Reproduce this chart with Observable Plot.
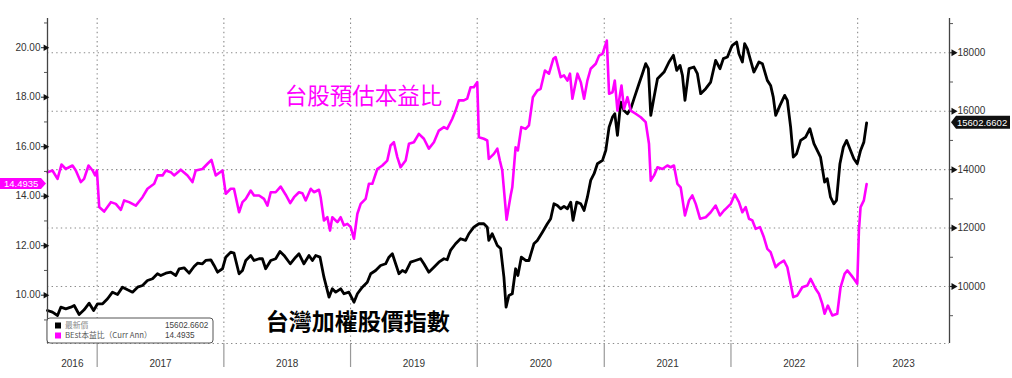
<!DOCTYPE html>
<html><head><meta charset="utf-8">
<script src="https://cdn.jsdelivr.net/npm/d3@7"></script>
<script src="https://cdn.jsdelivr.net/npm/@observablehq/plot@0.6"></script>
<style>html,body{margin:0;padding:0;background:#fff;} svg{display:block}</style>
</head><body><div id="chart"></div>
<script>
// ---- data (time as decimal year) ----
const taiex = [[2016.609,9178],[2016.648,9120],[2016.688,9007],[2016.714,9291],[2016.753,9236],[2016.793,9291],[2016.819,9349],[2016.858,9041],[2016.897,9202],[2016.937,9428],[2016.972,9178],[2017.003,9407],[2017.043,9407],[2017.082,9579],[2017.121,9805],[2017.161,9726],[2017.200,9977],[2017.240,9886],[2017.279,9805],[2017.319,9977],[2017.358,10034],[2017.397,10205],[2017.437,10264],[2017.476,10435],[2017.502,10377],[2017.542,10456],[2017.581,10490],[2017.621,10377],[2017.647,10606],[2017.686,10640],[2017.726,10456],[2017.765,10685],[2017.792,10798],[2017.831,10777],[2017.857,10890],[2017.897,10914],[2017.923,10719],[2017.950,10490],[2017.989,10606],[2018.015,11004],[2018.054,11175],[2018.080,11140],[2018.120,10435],[2018.147,10548],[2018.173,10890],[2018.212,11062],[2018.238,10890],[2018.278,10949],[2018.304,10949],[2018.330,10606],[2018.370,10890],[2018.409,10949],[2018.443,11199],[2018.475,11062],[2018.524,10777],[2018.567,11004],[2018.593,11120],[2018.632,10777],[2018.672,11062],[2018.699,10890],[2018.725,11062],[2018.759,11004],[2018.790,10319],[2018.830,9634],[2018.856,9921],[2018.883,9805],[2018.922,9921],[2018.948,9750],[2018.987,9805],[2019.027,9462],[2019.054,9750],[2019.093,9977],[2019.132,10147],[2019.159,10435],[2019.198,10548],[2019.237,10719],[2019.277,10777],[2019.303,11004],[2019.330,11120],[2019.356,10777],[2019.382,10435],[2019.409,10548],[2019.435,10490],[2019.474,10832],[2019.513,10890],[2019.553,10949],[2019.579,10777],[2019.618,10490],[2019.658,10661],[2019.697,10832],[2019.737,10949],[2019.763,10914],[2019.789,11233],[2019.829,11462],[2019.868,11634],[2019.908,11576],[2019.934,11805],[2019.973,12031],[2020.013,12147],[2020.052,12147],[2020.079,12031],[2020.091,11576],[2020.118,11805],[2020.158,11404],[2020.184,11300],[2020.210,10319],[2020.227,9291],[2020.249,9692],[2020.276,9750],[2020.302,10606],[2020.320,10377],[2020.347,11004],[2020.381,10890],[2020.407,10890],[2020.446,11462],[2020.473,11576],[2020.513,11860],[2020.552,12147],[2020.578,12319],[2020.604,12832],[2020.631,12774],[2020.657,12661],[2020.683,12740],[2020.710,12661],[2020.736,12887],[2020.754,12261],[2020.783,12887],[2020.815,12832],[2020.841,12603],[2020.867,13058],[2020.893,13630],[2020.920,13860],[2020.946,14202],[2020.986,14316],[2021.012,14658],[2021.038,15456],[2021.065,15799],[2021.083,15915],[2021.104,15172],[2021.130,16313],[2021.156,16028],[2021.183,15915],[2021.209,16086],[2021.235,16429],[2021.274,16942],[2021.301,17285],[2021.327,17628],[2021.348,17456],[2021.367,15857],[2021.393,16484],[2021.420,17114],[2021.472,17342],[2021.511,17685],[2021.546,17914],[2021.572,17398],[2021.598,17570],[2021.617,17227],[2021.637,16370],[2021.669,17456],[2021.708,17513],[2021.735,17285],[2021.761,16600],[2021.801,16771],[2021.840,16998],[2021.879,17741],[2021.913,17456],[2021.940,17799],[2021.972,17856],[2021.998,18142],[2022.011,18254],[2022.045,18367],[2022.063,17970],[2022.090,17685],[2022.108,18311],[2022.129,18142],[2022.155,17741],[2022.181,17342],[2022.221,17685],[2022.248,17628],[2022.287,17056],[2022.313,16884],[2022.334,16484],[2022.353,15857],[2022.387,16199],[2022.424,16542],[2022.445,16370],[2022.471,15456],[2022.492,14429],[2022.518,14545],[2022.550,15001],[2022.589,15114],[2022.623,15401],[2022.655,14888],[2022.681,14658],[2022.707,14429],[2022.739,13572],[2022.760,13689],[2022.786,13058],[2022.812,12832],[2022.833,12946],[2022.860,14202],[2022.887,14771],[2022.913,15001],[2022.944,14658],[2022.970,14374],[2022.997,14202],[2023.023,14658],[2023.049,14942],[2023.071,15602.6602]];

const pe = [[2016.609,14.97],[2016.648,15.04],[2016.688,14.70],[2016.719,15.28],[2016.753,15.10],[2016.779,15.17],[2016.806,15.24],[2016.832,15.04],[2016.871,14.57],[2016.897,14.70],[2016.932,15.24],[2016.964,15.04],[2016.984,14.84],[2016.998,15.04],[2017.016,13.56],[2017.055,13.38],[2017.108,13.76],[2017.147,13.69],[2017.187,13.45],[2017.213,13.83],[2017.252,13.76],[2017.305,13.62],[2017.358,13.96],[2017.397,14.30],[2017.450,14.50],[2017.476,14.84],[2017.516,14.84],[2017.542,15.04],[2017.581,14.97],[2017.607,14.84],[2017.660,15.07],[2017.713,14.84],[2017.752,14.57],[2017.778,15.04],[2017.831,15.10],[2017.871,15.31],[2017.902,15.47],[2017.936,14.84],[2017.989,15.04],[2018.015,14.10],[2018.054,14.30],[2018.080,14.30],[2018.120,13.35],[2018.147,13.76],[2018.173,13.89],[2018.212,14.23],[2018.238,14.03],[2018.278,14.03],[2018.317,13.89],[2018.344,13.62],[2018.370,14.16],[2018.409,14.16],[2018.448,14.39],[2018.488,14.06],[2018.524,13.72],[2018.554,13.96],[2018.593,14.16],[2018.620,14.12],[2018.646,13.83],[2018.686,14.30],[2018.711,14.16],[2018.751,14.26],[2018.764,13.96],[2018.790,13.02],[2018.817,13.15],[2018.838,12.61],[2018.856,13.15],[2018.896,12.95],[2018.922,13.15],[2018.948,12.82],[2018.975,12.88],[2019.001,12.75],[2019.027,12.28],[2019.054,13.29],[2019.080,13.69],[2019.119,13.89],[2019.145,14.50],[2019.172,14.50],[2019.211,15.10],[2019.251,15.24],[2019.290,15.44],[2019.316,16.05],[2019.342,16.18],[2019.369,15.58],[2019.395,15.17],[2019.435,15.44],[2019.461,16.12],[2019.500,16.18],[2019.539,16.52],[2019.579,16.32],[2019.618,15.92],[2019.658,16.18],[2019.697,16.65],[2019.737,16.79],[2019.763,16.72],[2019.803,17.13],[2019.829,17.46],[2019.855,17.87],[2019.894,17.87],[2019.921,17.94],[2019.947,18.40],[2019.973,18.40],[2020.000,18.61],[2020.013,16.38],[2020.052,16.32],[2020.079,16.25],[2020.091,15.51],[2020.131,15.71],[2020.158,15.92],[2020.178,15.44],[2020.197,15.04],[2020.231,13.05],[2020.263,14.03],[2020.276,14.36],[2020.302,15.98],[2020.320,15.85],[2020.347,16.79],[2020.381,16.72],[2020.407,16.86],[2020.438,18.00],[2020.473,18.27],[2020.499,18.34],[2020.533,19.08],[2020.565,18.95],[2020.599,19.55],[2020.617,19.62],[2020.657,18.81],[2020.683,18.88],[2020.710,18.67],[2020.730,18.95],[2020.749,17.94],[2020.789,18.95],[2020.815,18.61],[2020.841,17.94],[2020.867,18.67],[2020.893,19.15],[2020.933,19.35],[2020.959,19.68],[2020.986,19.75],[2021.020,20.29],[2021.038,18.14],[2021.065,18.20],[2021.083,18.67],[2021.104,17.46],[2021.136,18.47],[2021.156,17.53],[2021.183,18.00],[2021.209,17.46],[2021.248,17.33],[2021.288,17.19],[2021.327,16.99],[2021.353,16.12],[2021.367,14.63],[2021.393,14.84],[2021.420,15.17],[2021.459,15.10],[2021.498,15.24],[2021.524,15.17],[2021.550,15.24],[2021.577,14.50],[2021.603,14.36],[2021.637,13.22],[2021.669,13.83],[2021.695,14.03],[2021.722,13.69],[2021.756,13.09],[2021.801,13.15],[2021.840,13.35],[2021.879,13.62],[2021.913,13.22],[2021.945,13.42],[2021.959,13.49],[2021.998,13.69],[2022.030,14.07],[2022.063,13.76],[2022.090,13.35],[2022.116,13.56],[2022.142,13.09],[2022.169,13.02],[2022.195,12.68],[2022.229,12.75],[2022.260,12.34],[2022.287,11.87],[2022.313,11.74],[2022.353,11.13],[2022.379,11.27],[2022.418,11.40],[2022.445,11.13],[2022.471,10.46],[2022.492,9.92],[2022.524,9.99],[2022.563,10.32],[2022.603,10.39],[2022.629,10.66],[2022.668,10.26],[2022.694,10.06],[2022.721,9.65],[2022.739,9.25],[2022.765,9.58],[2022.800,9.18],[2022.839,9.25],[2022.865,10.32],[2022.897,10.86],[2022.918,11.00],[2022.950,10.80],[2022.970,10.66],[2022.997,10.46],[2023.010,12.61],[2023.023,13.56],[2023.049,13.83],[2023.071,14.4935]];

const yearLabels = [2016, 2017, 2018, 2019, 2020, 2021, 2022, 2023];
const taiexTicks = [10000, 12000, 14000, 16000, 18000];
const taiexMinor = [9000, 11000, 13000, 15000, 17000, 19000];
const peTicks = [10, 12, 14, 16, 18, 20];
const peMinor = [9, 11, 13, 15, 17, 19, 21];
const seriesNames = ["最新價", "BEst本益比（Curr Ann）"];
const lastValues = ["15602.6602", "14.4935"];
const annotationPE = "台股預估本益比";
const annotationTAIEX = "台灣加權股價指數";

// ---- helpers ----
const toDate = t => { const y = Math.floor(t); const a = Date.UTC(y,0,1), b = Date.UTC(y+1,0,1); return new Date(a + (t - y) * (b - a)); };
const xDomain = [2016.609, 2023.725];
const yDomain = [8048, 19174];
const peDomain = [8.048, 21.18];
const peToY = d3.scaleLinear().domain(peDomain).range(yDomain);
const MAG = "#ff00ff";

const x0 = toDate(xDomain[0]), x1 = toDate(xDomain[1]);
const yearStarts = d3.range(2017, 2024).map(y => new Date(Date.UTC(y,0,1)));
const quarterTicks = d3.utcMonths(x0, x1, 3).filter(d => d.getUTCMonth() % 3 === 0 && d.getUTCMonth() !== 0);
const labelPos = yearLabels.map(y => {
  const a = Math.max(+x0, Date.UTC(y,0,1)), b = Math.min(+x1, Date.UTC(y+1,0,1));
  return new Date((a + b) / 2);
});

const dotted = {stroke: "#8a8a8a", strokeOpacity: 1, strokeDasharray: "1.4,3.2", strokeWidth: 1.1};

function tags(index, scales, values, dim) {
  const g = d3.create("svg:g").attr("font-family", "Liberation Sans, Arial, sans-serif").attr("text-anchor", "start");
  // right tag (TAIEX)
  const xr = dim.width - dim.marginRight + 2;
  const yr = scales.y(taiex[taiex.length - 1][1]);
  g.append("path").attr("fill", "#111")
    .attr("d", `M${xr},${yr} L${xr+5},${yr-6.5} L${xr+59},${yr-6.5} L${xr+59},${yr+6.5} L${xr+5},${yr+6.5} Z`);
  g.append("text").attr("x", xr + 6).attr("y", yr).attr("dy", "0.35em")
    .attr("fill", "#fff").attr("font-size", 9.5).text(lastValues[0]);
  // left tag (PE)
  const xl = dim.marginLeft - 1;
  const yl = scales.y(peToY(pe[pe.length - 1][1]));
  g.append("path").attr("fill", MAG)
    .attr("d", `M0,${yl-5.5} L${xl-5},${yl-5.5} L${xl},${yl} L${xl-5},${yl+5.5} L0,${yl+5.5} Z`);
  g.append("text").attr("x", 4).attr("y", yl).attr("dy", "0.35em")
    .attr("fill", "#fff").attr("font-size", 9.5).text(lastValues[1]);
  return g.node();
}

function legend(index, scales, values, dim) {
  const g = d3.create("svg:g").attr("font-family", "Liberation Sans, 'Noto Sans CJK TC', sans-serif").attr("text-anchor", "start");
  const bx = dim.marginLeft, by = dim.height - dim.marginBottom - 25, w = 166, h = 25;
  g.append("rect").attr("x", bx).attr("y", by).attr("width", w).attr("height", h)
    .attr("rx", 3).attr("fill", "#fff").attr("stroke", "#555").attr("stroke-width", 1);
  [["#000", 0], [MAG, 1]].forEach(([c, i]) => {
    const cy = by + 7.5 + i * 10;
    g.append("rect").attr("x", bx + 8).attr("y", cy - 3).attr("width", 6).attr("height", 6).attr("fill", c);
    g.append("text").attr("x", bx + 18).attr("y", cy).attr("dy", "0.35em")
      .attr("font-size", 7.8).attr("fill", i === 0 ? "#888" : "#555")
      .attr("font-family", "'Noto Sans CJK TC', sans-serif").text(seriesNames[i]);
    g.append("text").attr("x", bx + 118).attr("y", cy).attr("dy", "0.35em")
      .attr("font-size", 8.2).attr("fill", "#444").text(lastValues[i]);
  });
  return g.node();
}

const chart = Plot.plot({
  width: 1012, height: 378,
  marginLeft: 47, marginRight: 63, marginTop: 18, marginBottom: 35,
  style: {fontFamily: "Liberation Sans, Arial, sans-serif", fontSize: "10px", color: "#333", background: "#fff"},
  x: {type: "utc", domain: [x0, x1]},
  y: {domain: yDomain},
  marks: [
    Plot.gridY(taiexTicks, dotted),
    Plot.gridX(yearStarts, dotted),
    Plot.ruleY([yDomain[0]], dotted),
    Plot.line(taiex, {x: d => toDate(d[0]), y: d => d[1], stroke: "#000", strokeWidth: 2.8, strokeLinejoin: "round"}),
    Plot.line(pe, {x: d => toDate(d[0]), y: d => peToY(d[1]), stroke: MAG, strokeWidth: 2.6, strokeLinejoin: "round"}),
    Plot.ruleX([x0], {stroke: "#444", strokeWidth: 1.3}),
    Plot.ruleX([x1], {stroke: "#444", strokeWidth: 1.3}),
    // right axis (TAIEX)
    Plot.axisY(taiexTicks, {anchor: "right", tickSize: 6, tickPadding: 2, tickFormat: d => String(d), stroke: "#222", label: null}),
    Plot.axisY(taiexMinor, {anchor: "right", tickSize: 3, fill: "none", stroke: "#555", label: null}),
    Plot.dot(taiexTicks, {x: x1, y: d => d, symbol: "triangle", rotate: 90, r: 2.6, fill: "#111", dx: 4}),
    // left axis (PE)
    Plot.axisY(peTicks.map(d => peToY(d)), {anchor: "left", tickSize: 6, tickPadding: 1, tickFormat: d => peToY.invert(d).toFixed(2), stroke: "#222", label: null}),
    Plot.axisY(peMinor.map(d => peToY(d)), {anchor: "left", tickSize: 3, fill: "none", stroke: "#555", label: null}),
    Plot.dot(peTicks, {x: x0, y: d => peToY(d), symbol: "triangle", rotate: 90, r: 2.4, fill: "#111", dx: -2}),
    // x axis
    Plot.axisX(yearStarts, {tickSize: 24, fill: "none", stroke: "#999", strokeWidth: 1.2, label: null}),
    Plot.axisX(quarterTicks, {tickSize: 4, fill: "none", stroke: "#666", label: null}),
    Plot.axisX(labelPos, {tickSize: 0, tickPadding: 16, tickFormat: d => String(yearLabels[labelPos.indexOf(d)]), fill: "#333", label: null}),
    // annotations
    Plot.text([annotationPE], {x: toDate(2018.48), y: peToY(18.03), text: d => d, textAnchor: "start", fill: MAG, fontSize: 22.5, fontFamily: "'Noto Sans CJK TC', sans-serif"}),
    Plot.text([annotationTAIEX], {x: toDate(2018.33), y: 8778, text: d => d, textAnchor: "start", fill: "#000", fontSize: 23, fontWeight: "bold", fontFamily: "'Noto Sans CJK TC', sans-serif"}),
    legend,
    tags
  ]
});
document.getElementById("chart").appendChild(chart);
</script></body></html>
